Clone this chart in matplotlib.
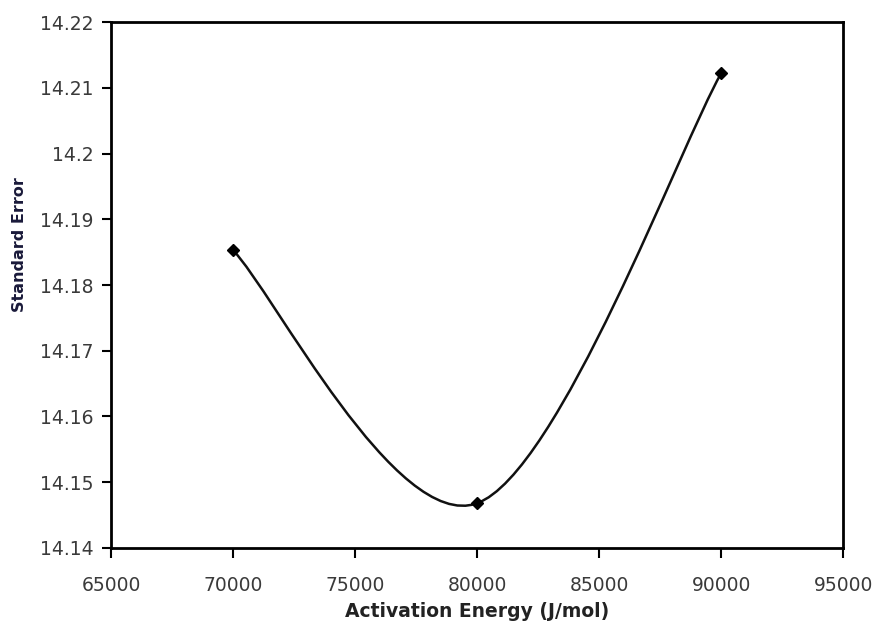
import numpy as np
import matplotlib
matplotlib.use("Agg")
import matplotlib.pyplot as plt
from matplotlib.path import Path
from matplotlib.patches import PathPatch

plt.rcParams['font.family'] = ['DejaVu Sans']

# data
energy = [70000, 80000, 90000]
std_error = [14.1853, 14.1468, 14.2122]
x_ticks = [65000, 70000, 75000, 80000, 85000, 90000, 95000]
y_ticks = [14.14, 14.15, 14.16, 14.17, 14.18, 14.19, 14.2, 14.21, 14.22]
y_tick_labels = ["14.14", "14.15", "14.16", "14.17", "14.18", "14.19", "14.2", "14.21", "14.22"]


def smooth_path(xs, ys):
    """Excel-style smoothed line: cubic bezier through the points."""
    pts = np.column_stack([xs, ys]).astype(float)
    n = len(pts)
    verts = [pts[0]]
    codes = [Path.MOVETO]
    for i in range(n - 1):
        p_prev = pts[i - 1] if i > 0 else pts[i]
        p_next = pts[i + 2] if i + 2 < n else pts[i + 1]
        c1 = pts[i] + (pts[i + 1] - p_prev) / 6
        c2 = pts[i + 1] - (p_next - pts[i]) / 6
        verts += [c1, c2, pts[i + 1]]
        codes += [Path.CURVE4] * 3
    return Path(verts, codes)


fig = plt.figure(figsize=(8.81, 6.32), dpi=100)
ax = fig.add_axes([0.126, 0.133, 0.831, 0.832])

ax.add_patch(PathPatch(smooth_path(energy, std_error), fill=False,
                       edgecolor='#111111', lw=1.8, transform=ax.transData))
ax.plot(energy, std_error, linestyle='none', marker='D', ms=6.5, color='black')

ax.set_xlim(65000, 95000)
ax.set_ylim(14.14, 14.22)
ax.set_xticks(x_ticks)
ax.set_xticklabels([str(v) for v in x_ticks])
ax.set_yticks(y_ticks)
ax.set_yticklabels(y_tick_labels)

for s in ax.spines.values():
    s.set_linewidth(2)
ax.tick_params(direction='out', width=1.5, labelsize=13.5, labelcolor='#3a3a3a')
ax.tick_params(axis='x', length=7, pad=13)
ax.tick_params(axis='y', length=6.5, pad=6)

ax.set_xlabel("Activation Energy (J/mol)", fontsize=13.5, fontweight='bold',
              color='#222222', labelpad=5)

# y label sits at the far left, next to the tick labels
fig.text(27 / 881, 1 - 245 / 632, "Standard Error", rotation=90, ha='right',
         va='center', fontsize=11.5, fontweight='bold', color='#1a1a3a')

fig.savefig("out.png", dpi=100)
